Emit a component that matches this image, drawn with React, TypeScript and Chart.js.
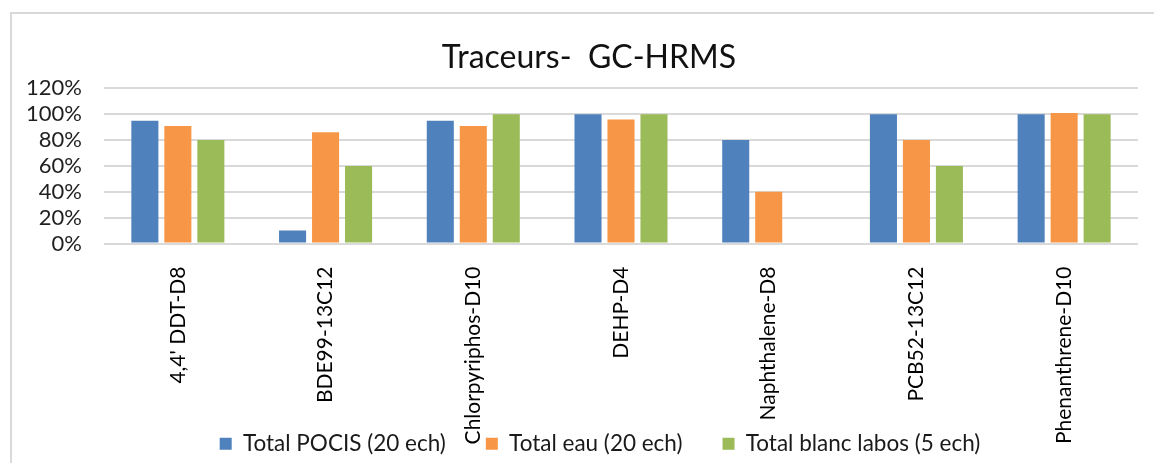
import React, { useEffect, useRef } from 'react';
import { Chart, registerables } from 'chart.js';

Chart.register(...registerables);

const titleText = 'Traceurs-  GC-HRMS';
const categories = ["4,4' DDT-D8", 'BDE99-13C12', 'Chlorpyriphos-D10', 'DEHP-D4', 'Naphthalene-D8', 'PCB52-13C12', 'Phenanthrene-D10'];
const seriesNames = ['Total POCIS (20 ech)', 'Total eau (20 ech)', 'Total blanc labos (5 ech)'];
const pocisValues = [95, 10, 95, 100, 80, 100, 100];
const eauValues = [91, 86, 91, 96, 40, 80, 101];
const blancValues = [80, 60, 100, 100, 0, 60, 100];
const seriesColors = ['#4F81BD', '#F79646', '#9BBB59'];
const yMax = 120;
const yStep = 20;

// nudges the legend box (Excel places it independently of the plot area)
const legendShift = {
  id: 'legendShift',
  afterLayout(chart: any) {
    const lg = chart.legend;
    if (!lg) return;
    lg.left += 11;
    lg.right += 11;
    lg.top += 3;
    lg.bottom += 3;
  },
};

export default function App() {
  const canvasRef = useRef<HTMLCanvasElement | null>(null);

  useEffect(() => {
    const canvas = canvasRef.current;
    if (!canvas) return;
    const values = [pocisValues, eauValues, blancValues];
    const chart = new Chart(canvas, {
      type: 'bar',
      data: {
        labels: categories,
        datasets: seriesNames.map((name, i) => ({
          label: name,
          data: values[i],
          backgroundColor: seriesColors[i],
          borderWidth: 0,
          categoryPercentage: 0.67,
          barPercentage: 0.82,
        })),
      },
      plugins: [legendShift],
      options: {
        responsive: false,
        animation: false,
        devicePixelRatio: 1,
        layout: { padding: { left: 40, right: 16, top: 12, bottom: 1 } },
        font: { family: 'Lato' },
        plugins: {
          title: {
            display: true,
            text: titleText,
            color: '#111111',
            font: { family: 'Lato', size: 32, weight: 'normal' },
            padding: { top: 26, bottom: 12 },
          },
          legend: {
            display: true,
            position: 'bottom',
            labels: {
              color: '#1a1a1a',
              font: { family: 'Lato', size: 22.5 },
              boxWidth: 12,
              boxHeight: 12,
              padding: 40,
            },
          },
          tooltip: { enabled: false },
        },
        scales: {
          x: {
            grid: { display: false },
            border: { display: false },
            ticks: {
              autoSkip: false,
              minRotation: 90,
              maxRotation: 90,
              padding: 15,
              color: '#000000',
              font: { family: 'Lato', size: 21 },
            },
            afterFit: (scale: any) => {
              scale.height = 146;
              scale._computeLabelArea = () => undefined;
            },
          },
          y: {
            min: 0,
            max: yMax,
            ticks: {
              stepSize: yStep,
              autoSkip: false,
              padding: 22,
              color: '#1f1f1f',
              font: { family: 'Lato', size: 22 },
              callback: (v: any) => `${v}%`,
            },
            grid: { color: '#d9d9d9', lineWidth: 2, drawTicks: false },
            border: { display: false },
            afterFit: (scale: any) => {
              scale.width = 64;
              scale._computeLabelArea = () => undefined;
            },
          },
        },
      },
    });
    return () => chart.destroy();
  }, []);

  return (
    <div style={{ position: 'fixed', left: 0, top: 0, width: 1154, height: 463, overflow: 'hidden', background: '#ffffff' }}>
      <div
        style={{
          position: 'absolute',
          left: 10,
          top: 12,
          width: 1300,
          height: 600,
          borderLeft: '2px solid #d9d9d9',
          borderTop: '2px solid #d9d9d9',
        }}
      />
      <canvas
        ref={canvasRef}
        width={1154}
        height={463}
        style={{ position: 'absolute', left: 0, top: 0, width: 1154, height: 463 }}
      />
    </div>
  );
}
